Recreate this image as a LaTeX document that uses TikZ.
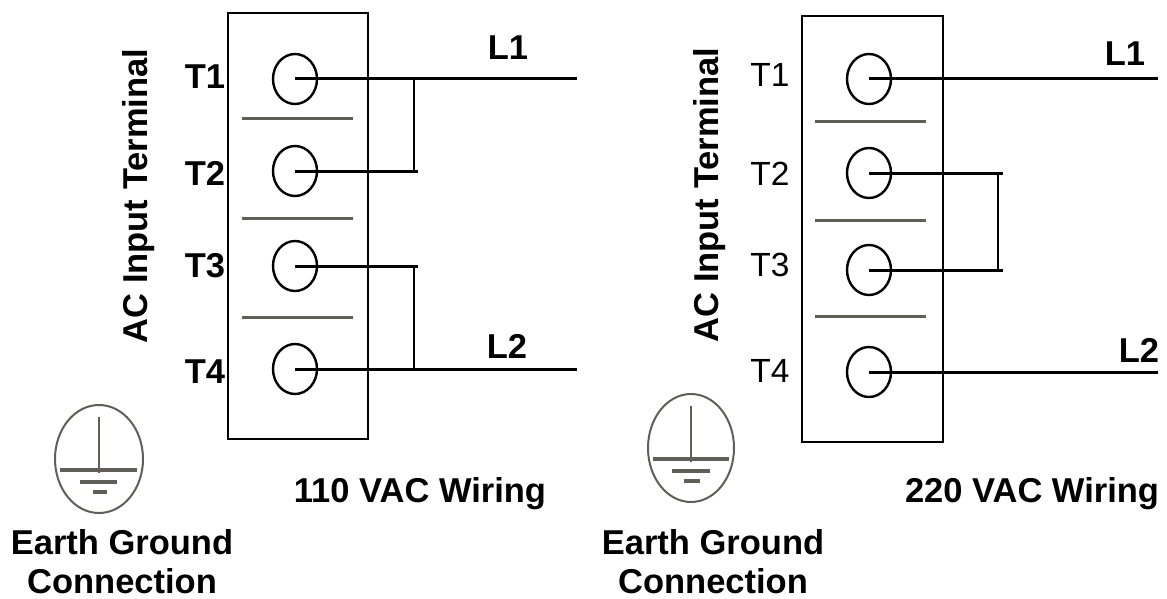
\documentclass[tikz,border=0pt]{standalone}
\usepackage{fontspec}
\setmainfont{Liberation Sans}
\usetikzlibrary{shapes.geometric}
\definecolor{sepgray}{RGB}{96,94,86}
\tikzset{
	term/.style={ellipse,draw,line width=2.4pt,minimum width=44pt,minimum height=50pt,inner sep=0pt},
	wire/.style={line width=3pt},
	jumper/.style={line width=1.5pt},
	sepline/.style={draw=sepgray,line width=3pt},
	gnd/.style={draw=sepgray,line width=2pt},
	gndbar/.style={draw=sepgray,line width=4pt},
	boldtxt/.style={font=\fontsize{34.5}{39}\selectfont\bfseries},
	plaintxt/.style={font=\fontsize{33.5}{39}\selectfont},
}
\begin{document}
\begin{tikzpicture}[x=1pt,y=-1pt,inner sep=0pt]
	\useasboundingbox (0,0) rectangle (1167,599);
	% 110 VAC
	\node [draw,line width=2.5pt,minimum width=140pt,minimum height=426pt] (box1) at (298,226) {};
	\draw [sepline] (242,119) -- (353,119);
	\draw [sepline] (242,218) -- (353,218);
	\draw [sepline] (242,317) -- (353,317);
	\node [term] (a1) at (295,79) {};
	\node [term] (a2) at (295,171) {};
	\node [term] (a3) at (295,266) {};
	\node [term] (a4) at (295,369) {};
	\node [boldtxt] (ta1) at (205,77) {T1};
	\node [boldtxt] (ta2) at (205,173) {T2};
	\node [boldtxt] (ta3) at (205,266) {T3};
	\node [boldtxt] (ta4) at (205,372) {T4};
	\node [boldtxt,rotate=90] (ac1) at (139,196) {AC Input Terminal};
	\coordinate (la1) at (577,79);
	\coordinate (la2) at (577,369);
	\coordinate (j1) at (414,79);
	\coordinate (j2) at (418,171);
	\coordinate (j3) at (418,266);
	\coordinate (j4) at (414,369);
	\draw [wire] (a1.center) -- (la1);
	\draw [wire] (a2.center) -- (j2);
	\draw [wire] (a3.center) -- (j3);
	\draw [wire] (a4.center) -- (la2);
	\draw [jumper] (j1) -- (j1 |- j2);
	\draw [jumper] (j4) -- (j4 |- j3);
	\node [boldtxt] (l1a) at (508,48) {L1};
	\node [boldtxt] (l2a) at (507,346) {L2};
	\node [boldtxt,anchor=base] (w1) at (420,502) {110 VAC Wiring};
	\draw [gnd] (99,459) ellipse [x radius=44,y radius=54];
	\draw [gnd] (99,417) -- (99,473);
	\draw [gndbar] (60,470) -- (137,470);
	\draw [gndbar] (80,482) -- (117,482);
	\draw [gndbar] (93,492) -- (107,492);
	\node [boldtxt,align=center] (g1) at (122,562) {Earth Ground\\Connection};
	% 220 VAC
	\node [draw,line width=2.5pt,minimum width=141pt,minimum height=426pt] (box2) at (872.5,229) {};
	\draw [sepline] (815,122) -- (926,122);
	\draw [sepline] (815,220) -- (926,220);
	\draw [sepline] (815,316) -- (926,316);
	\node [term] (b1) at (869,79) {};
	\node [term] (b2) at (869,173) {};
	\node [term] (b3) at (869,270) {};
	\node [term] (b4) at (869,372) {};
	\node [plaintxt] (tb1) at (770,75) {T1};
	\node [plaintxt] (tb2) at (770,174) {T2};
	\node [plaintxt] (tb3) at (770,265) {T3};
	\node [plaintxt] (tb4) at (770,371) {T4};
	\node [boldtxt,rotate=90] (ac2) at (710,195) {AC Input Terminal};
	\coordinate (lb1) at (1158,79);
	\coordinate (lb2) at (1158,372);
	\coordinate (k2) at (1003,173);
	\coordinate (k3) at (1003,270);
	\coordinate (k1) at (998,173);
	\draw [wire] (b1.center) -- (lb1);
	\draw [wire] (b2.center) -- (k2);
	\draw [wire] (b3.center) -- (k3);
	\draw [wire] (b4.center) -- (lb2);
	\draw [jumper] (k1) -- (k1 |- k3);
	\node [boldtxt] (l1b) at (1125,54) {L1};
	\node [boldtxt] (l2b) at (1139,350) {L2};
	\node [boldtxt,anchor=base] (w2) at (1032,502) {220 VAC Wiring};
	\draw [gnd] (691,448) ellipse [x radius=43,y radius=54];
	\draw [gnd] (691,406) -- (691,462);
	\draw [gndbar] (653,459) -- (729,459);
	\draw [gndbar] (672,471) -- (710,471);
	\draw [gndbar] (684,481) -- (700,481);
	\node [boldtxt,align=center] (g2) at (713,562) {Earth Ground\\Connection};
\end{tikzpicture}
\end{document}
